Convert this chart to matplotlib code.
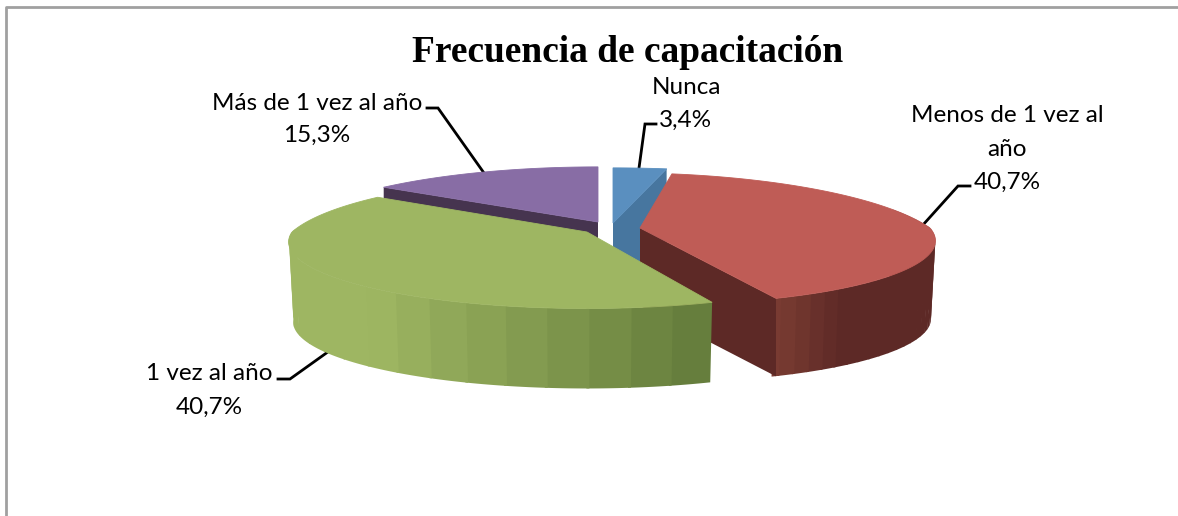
import matplotlib
matplotlib.use('Agg')
import matplotlib.pyplot as plt
import numpy as np
#
# Chart data, clockwise from 12 o'clock:
#
categories = ['Nunca', 'Menos de 1 vez al\naño', '1 vez al año', 'Más de 1 vez al año']
values = [3.4, 40.7, 40.7, 15.3]
value_labels = ['3,4%', '40,7%', '40,7%', '15,3%']
title = 'Frecuencia de capacitación'
#
# Look of the slices: top colour, cut face colour, apex offset (px), radius, perspective shift, depth
#
top_colors = ['#5A8FBF', '#BF5C56', '#9EB662', '#886DA5']
face_colors = ['#47769F', '#5D2926', '#6A7F3C', '#46344F']
offsets = [(15, 1), (42, 6), (-11, 10), (0, 0)]
radii = [320, 290, 295, 302]
shifts = [0, 80, 0, 0]
depths = [78, 78, 80, 78]
cx, cy = 598, 222


def project(theta, i, scale=1.0, drop=0.0):
    # theta in degrees clockwise from the top, simple perspective on the disc
    ex, ey = offsets[i]
    th = np.radians(theta)
    u, v = np.sin(th), np.cos(th)
    s = np.where(v > 0, 1/(1 + 0.27*v), 1/(1 + 0.15*v))
    ry = np.where(v > 0, 70, 65)
    x = cx + ex + scale*radii[i]*u*s + shifts[i]*(s - 1)
    y = cy + ey - ry*v*s + drop
    return x, y


def top_polygon(a0, a1, i):
    th = np.linspace(a0, a1, 120)
    x, y = project(th, i)
    return np.r_[cx + offsets[i][0], x], np.r_[cy + offsets[i][1], y]


def cut_face(angle, i):
    x, y = project(angle, i)
    ax0, ay0 = cx + offsets[i][0], cy + offsets[i][1]
    return [ax0, float(x), float(x), ax0], [ay0, float(y), float(y) + depths[i], ay0 + depths[i]]


def wall(a0, a1, i, shade, step):
    # outer wall drawn as vertical bands, a few degrees wide
    edges = np.r_[np.arange(a0, a1, step), a1]
    for b0, b1 in zip(edges[:-1], edges[1:]):
        th = np.linspace(b0, b1 + 0.5, 8)
        x, y = project(th, i)
        xb, yb = project(th[::-1], i, scale=0.985, drop=depths[i])
        ax.fill(np.r_[x, xb], np.r_[y, yb], color=shade(0.5*(b0 + b1)), lw=0, zorder=zo[i])


def green_shade(t):
    light, dark = np.array([158, 182, 98]), np.array([98, 122, 58])
    f = np.clip((220 - t)/(220 - bounds[2]), 0, 1)**1.1
    return tuple((light + (dark - light)*f)/255)


def red_shade(t):
    light, dark = np.array([122, 60, 50]), np.array([93, 41, 38])
    f = np.clip((bounds[2] - t)/14, 0, 1)
    return tuple((light + (dark - light)*f)/255)


fig = plt.figure(figsize=(11.78, 5.16), dpi=100)
ax = fig.add_axes([0, 0, 1, 1])
ax.set_xlim(0, 1178)
ax.set_ylim(516, 0)
ax.axis('off')

# chart frame, only top and left are in the crop
ax.plot([5.5, 5.5, 1178], [516, 6.5, 6.5], color='#A0A0A0', lw=2.0, solid_capstyle='butt')

fractions = np.array(values)/np.sum(values)
bounds = np.r_[0, np.cumsum(fractions)*360]
zo = [3, 4, 5, 2]
zo = [3, 4, 5, 2]

for i in [3, 0, 1, 2]:
    a0, a1 = bounds[i], bounds[i + 1]
    if i == 1:
        wall(bounds[2] - 85, a1, i, red_shade, 3.0)
    if i == 2:
        wall(a0, 272, i, green_shade, 7.0)
    if i != 2:
        # blue and red show the face at their clockwise end, purple at its start
        fx, fy = cut_face(a0 if i == 3 else a1, i)
        ax.fill(fx, fy, color=face_colors[i], lw=0, zorder=zo[i])
    tx, ty = top_polygon(a0, a1, i)
    ax.fill(tx, ty, color=top_colors[i], ec=top_colors[i], lw=0.6, zorder=zo[i] + 0.1)

# leader lines
leaders = [([656, 645, 639], [124, 124, 168]),
           ([970, 958, 922], [186, 186, 226]),
           ([278, 290, 332], [379, 379, 349]),
           ([427, 438, 484], [108, 108, 173])]
for lx, ly in leaders:
    ax.plot(lx, ly, color='black', lw=2.0, zorder=1, solid_joinstyle='miter')

ax.text(628, 53, title, family='Liberation Serif', weight='bold', fontsize=26.9, ha='center', va='center')
plt.rcParams['font.family'] = ['Lato', 'DejaVu Sans']
fs = 17.5
ax.text(686, 87, categories[0], fontsize=fs, ha='center', va='center')
ax.text(686, 120, value_labels[0], fontsize=fs, ha='center', va='center')
ax.text(1007, 116, 'Menos de 1 vez al', fontsize=fs, ha='center', va='center')
ax.text(1007, 149, 'año', fontsize=fs, ha='center', va='center')
ax.text(1007, 182, value_labels[1], fontsize=fs, ha='center', va='center')
ax.text(209, 374, categories[2], fontsize=fs, ha='center', va='center')
ax.text(209, 407, value_labels[2], fontsize=fs, ha='center', va='center')
ax.text(317, 103, categories[3], fontsize=fs, ha='center', va='center')
ax.text(317, 135, value_labels[3], fontsize=fs, ha='center', va='center')

fig.savefig('out.png', dpi=100)
